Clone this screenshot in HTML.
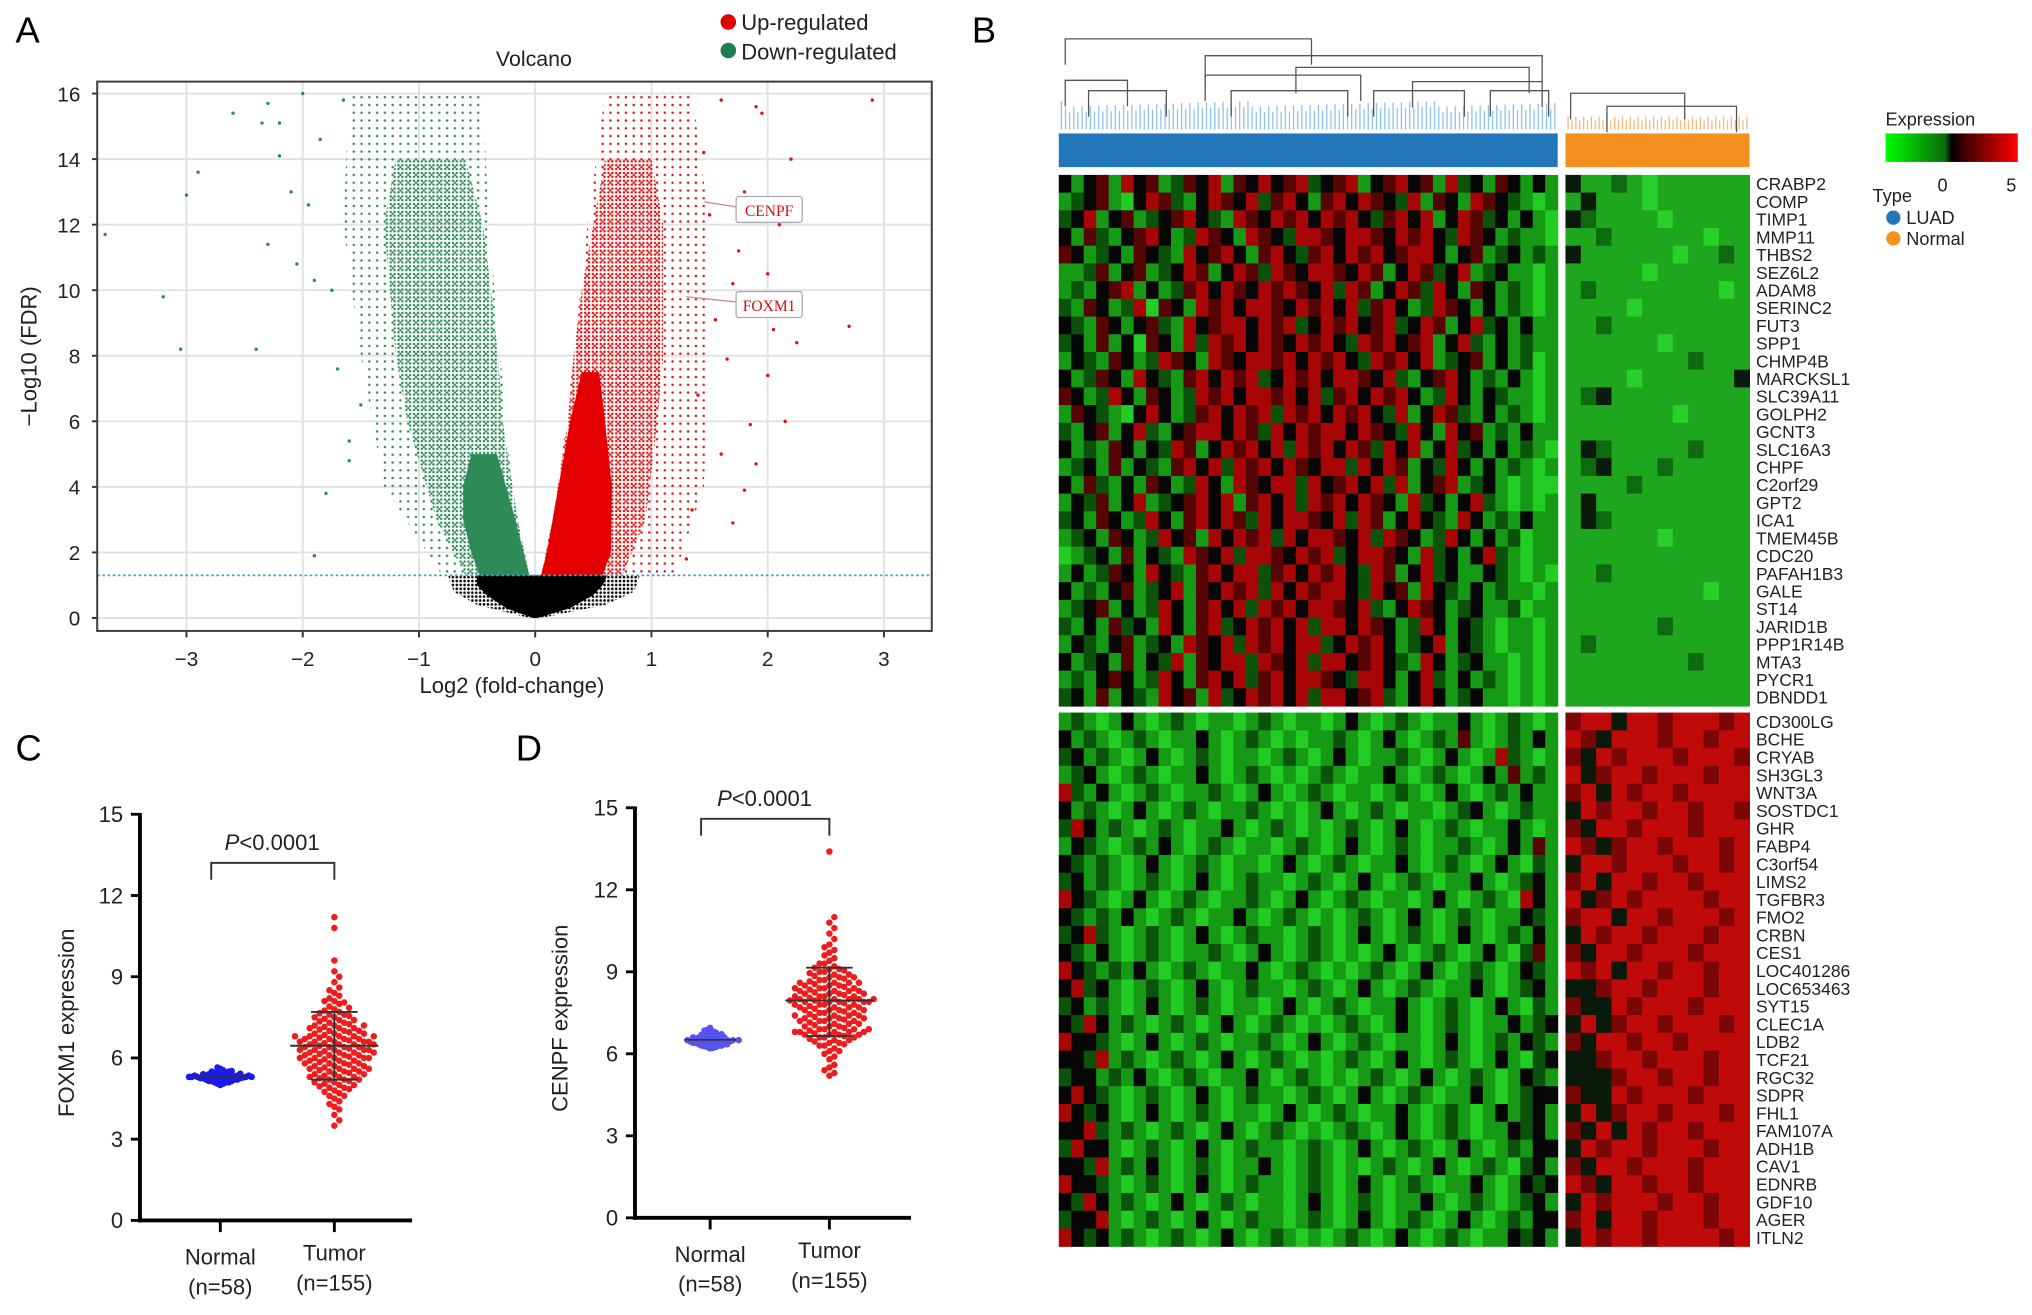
<!DOCTYPE html>
<html><head><meta charset="utf-8"><style>
html,body{margin:0;padding:0;background:#fff}
svg{display:block;font-family:"Liberation Sans",Arial,sans-serif}
</style></head><body>
<svg id="fig" width="2032" height="1315" viewBox="0 0 1568 1015" preserveAspectRatio="none" xmlns="http://www.w3.org/2000/svg">
<defs>
<pattern id="pg" width="3.0" height="3.0" patternUnits="userSpaceOnUse"><circle cx="1.5" cy="1.5" r="0.95" fill="#2e8b57"/></pattern>
<pattern id="pg2" width="6" height="6" patternUnits="userSpaceOnUse"><circle cx="3" cy="3" r="0.95" fill="#2e8b57"/></pattern>
<pattern id="pr" width="3.0" height="3.0" patternUnits="userSpaceOnUse"><circle cx="1.5" cy="1.5" r="0.95" fill="#e01010"/></pattern>
<pattern id="pr2" width="6" height="6" patternUnits="userSpaceOnUse"><circle cx="3" cy="3" r="0.95" fill="#e01010"/></pattern>
<pattern id="pk" width="3" height="3" patternUnits="userSpaceOnUse"><circle cx="1.5" cy="1.5" r="1.0" fill="#000"/></pattern>
<linearGradient id="cbar" x1="0" x2="1" y1="0" y2="0">
<stop offset="0" stop-color="#00ff00"/><stop offset="0.45" stop-color="#0a6a0a"/><stop offset="0.5" stop-color="#000"/><stop offset="0.6" stop-color="#400000"/><stop offset="1" stop-color="#ff0000"/></linearGradient>
</defs>
<g id="panelA"></g>
<g id="panelB"></g>
<g id="panelC"></g>
<g id="panelD"></g>
</svg>
<script>
// ---------- Volcano data ----------
const volTicksY=[0,2,4,6,8,10,12,14,16];
const volTicksX=[-3,-2,-1,0,1,2,3];
const downSparse=[[1.3,-0.8,-0.05],[4,-1.3,-0.2],[8,-1.5,-0.3],[12,-1.65,-0.4],[16,-1.6,-0.45]];
const downMed=[[1.3,-0.6,-0.05],[3,-0.85,-0.15],[6,-1.1,-0.28],[8,-1.2,-0.32],[10,-1.25,-0.38],[12,-1.3,-0.45],[14,-1.2,-0.6]];
const downDense=[[1.3,-0.48,-0.05],[2,-0.55,-0.1],[3,-0.62,-0.17],[4,-0.62,-0.25],[5,-0.55,-0.33]];
const upSparse=[[1.3,0.05,1.2],[4,0.2,1.45],[8,0.33,1.5],[12,0.45,1.5],[16,0.6,1.35]];
const upMed=[[1.3,0.05,0.75],[3,0.15,0.95],[6,0.28,1.05],[8,0.33,1.1],[10,0.4,1.1],[12,0.5,1.1],[14,0.6,1.0]];
const upDense=[[1.3,0.05,0.58],[2,0.1,0.65],[4,0.2,0.66],[6,0.3,0.6],[7.5,0.4,0.55]];
const nsSparse=[[0,-0.05,0.05],[0.4,-0.5,0.6],[0.8,-0.7,0.85],[1.3,-0.75,0.9]];
const nsDense=[[0,-0.02,0.02],[0.3,-0.25,0.3],[0.7,-0.42,0.5],[1.0,-0.5,0.58],[1.3,-0.5,0.62]];
const downOutX=[-3.7,-3.2,-3.05,-3.0,-2.9,-2.6,-2.4,-2.3,-2.3,-2.2,-2.2,-2.05,-2.0,-1.9,-1.8,-1.6,-1.6,-1.9,-1.7,-2.1,-1.95,-2.35,-1.75,-1.85,-1.5,-1.65];
const downOutY=[11.7,9.8,8.2,12.9,13.6,15.4,8.2,11.4,15.7,14.1,15.1,10.8,16,10.3,3.8,5.4,4.8,1.9,7.6,13.0,12.6,15.1,10.0,14.6,6.5,15.8];
const upOutX=[2.9,2.7,2.25,2.2,2.05,2.0,2.15,1.9,1.9,1.8,1.7,1.6,1.85,2.0,1.5,1.6,1.35,1.3,2.1,1.8,1.7,1.45,1.55,1.4,1.65,1.95,2.2,1.75];
const upOutY=[15.8,8.9,8.4,14.0,8.8,7.4,6.0,15.6,4.7,3.9,2.9,5.0,5.9,10.5,12.3,15.8,3.3,1.8,12.0,13.0,10.2,14.2,9.1,6.8,7.9,15.4,12.2,11.2];
const labelGenes=["CENPF","FOXM1"];
const labelGeneX=[1.45,1.3];
const labelGeneY=[12.7,9.8];

// ---------- Heatmap data ----------
const genesTop=["CRABP2","COMP","TIMP1","MMP11","THBS2","SEZ6L2","ADAM8","SERINC2","FUT3","SPP1","CHMP4B","MARCKSL1","SLC39A11","GOLPH2","GCNT3","SLC16A3","CHPF","C2orf29","GPT2","ICA1","TMEM45B","CDC20","PAFAH1B3","GALE","ST14","JARID1B","PPP1R14B","MTA3","PYCR1","DBNDD1"];
const genesBot=["CD300LG","BCHE","CRYAB","SH3GL3","WNT3A","SOSTDC1","GHR","FABP4","C3orf54","LIMS2","TGFBR3","FMO2","CRBN","CES1","LOC401286","LOC653463","SYT15","CLEC1A","LDB2","TCF21","RGC32","SDPR","FHL1","FAM107A","ADH1B","CAV1","EDNRB","GDF10","AGER","ITLN2"];
const topTumor=["kGkrGRkrGdrkRGrkRkrRdkrRGkrRkrGRdkGrkGkG","GdkrGgkRrdGkRrkRdrRkGrRkRrkdRGrkGRrkdGgG","dkRGkrGdkrRkdGRrkRrRkRrRkdrRkRGkRrdkGkGg","kGrdGkrRkGdRrkGRrkdRRrkRRrkRrRkdRrkGdGGg","rkGdkGrkdGRkrRkGrRkdrRkRrRkrRRkGkrGdkGdG","GGdrGkrGdkRrGkRrdRrkRRrkRrGkRrdkRGdkGGgG","GdGkrRGkGdrRkRrkRrRrkRdRrGkRrdRkGrkGdGgG","dGrkGdRgrkGRrRkRRrkRrRkRdrRkGdRrkGkGdGgG","kdGrkGkrdGRkrRRkRrRdkRrRkrRdkRrGkRdkGkGG","dkGrGkgrkGRdRrRkRrkRrRkdRrRkrRGkRdGkGdGG","GkdGrkGdRrkGRrkRRrRkRrRkdRrRkRGdkrGkGdgG","kGdrkGRkdGrRkRrRdkRrRkRRrkRdGkrRkGdGkGgG","rkGdRkGrkGdRrRkRRrRkRdrRkRrRkGdRkGkdGGgG","GrkdGgkRkGdrRkRrRdRrRkRrRkdRGkRrdGkGdGgG","dGkrGkRdGkrRRkRrdRkRrRRkRrkdRkGRkrGdGkGG","kGdGrkGkdRrGkRrRkRdRrRkRrdRkRGkRdkGkGdGg","GdkGrGkdGrRkRdRrRkRrkRRdRkRrGkdRkGkGdGgG","kGrdGkGrkGdRkGRrkRRdRkrRkRdRGkrRGdkGgGgg","GkdrGkRGdkrRkRGrRkRdRrRkRrkGRdkGkRdGgGgG","dkGrkGdRkGrRkRrdRkRRrkRdRrGkRkdGRkGdGkGG","GdkGrkGdRkrGRkRrRdRkRRrkRdRrkGdRkGkGdgGG","gGdkGrGkdGRrkRdRRrkRrRdkRRrkGRdkGkRdGgGG","GkGdrkGRkdGrRkRRdrRkRrRkdRrGkRdkGGkdGgGg","kGdGkrGdkRGrkRrRdRkRrRRkdRkrGRkdGkGdGGgG","GdkrGkGdRkGrRkRdRrRkRRrkRdGkRrkGdkGGdgGG","dGkGrdkGRkGrRdkRrRkRdRRkRrkGdRkGkdGgGGgG","GkdGkrGdkGRrkRdRrRkRRdkRrRkGdkRGkdGgGGgG","kGdkGrGkdRGrkRRdRrkRdRRkrRkdGRkGdkGGgGgG","GdGkrkGdRkGrRkRdrRkRRrkdRRkGkRdGkGdGgGgG","dkGrGkdGRkrGRdkRrRkRdRRkrRdGkRkGdkGGgGgG"];
const topNormal=["kGGdGgGGGGGG","GkGGGgGGGGGG","kdGGGGgGGGGG","GGdGGGGGGgGG","kGGGGGGgGGdG","GGGGGgGGGGGG","GdGGGGGGGGgG","GGGGgGGGGGGG","GGdGGGGGGGGG","GGGGGGgGGGGG","GGGGGGGGdGGG","GGGGgGGGGGGk","GdkGGGGGGGGG","GGGGGGGgGGGG","GGGGGGGGGGGG","GkdGGGGGdGGG","GdkGGGdGGGGG","GGGGdGGGGGGG","GkGGGGGGGGGG","GkdGGGGGGGGG","GGGGGGgGGGGG","GGGGGGGGGGGG","GGdGGGGGGGGG","GGGGGGGGGgGG","GGGGGGGGGGGG","GGGGGGdGGGGG","GdGGGGGGGGGG","GGGGGGGGdGGG","GGGGGGGGGGGG","GGGGGGGGGGGG"];
const botTumor=["GdGgGkGgGdGgGGgGdGgGGgGkGgGdGgGGkGgGdGgG","kGdGgGdGgGGkGgGdGgGgGGdGgGkGgGdGrGgGdGkG","dkGdGgGkGgGdGgGGgGdGgGkGgGGdGgGkGgGRdGgG","GdkGgGdGgGGkGgGdGgGgGdGgGGkGgGdGgGkGrGdG","RdGkGgGdGgGGdGgGkGgGdGgGGgGdGgGkGgGdGkGG","kGdGgGkGgGdGgGGdGgGgGkGgGdGgGGgGdkGgGdGG","dRkGdGgGdGgGGkGgGdGgGgGdGgGkGgGdGgGGkGgG","GkdGgGdGkGgGdGgGGgGdGgGkGgGdGgGGdGgGkGrG","kdGdGgGkGgGdGgGGgGkGgGdGgGGkGgGdGgGkGgdG","dkGdGgGdGgGkGgGdGGgGdGgGkGgGdGgGGkGgGdkG","RkdGgGkGgGdGgGGdGgGkGgGdGgGGgGkGgGdGgRkG","kdGdGkGgGdGgGGkGgGdGgGgGdGgGkGgGdGgGGkdG","dkRdGgGdGgGkGgGdGGgGdGgGkGgGdGgGkGgGdGkG","kdGkGgGdGgGGdGgGkGgGdGgGgGkGgGdGgGkGgdrG","RkdGdGkGgGdGgGGkGgGdGgGgGdGgGkGgGdGgGkdG","kRdkGgGdGgGkGgGdGGgGdGgGkGgGdGgGGkGgGdkG","dkGdGgGkGgGdGgGGgGkGgGdGgGGkGgGdGgGkGgdG","kdRkGdGgGdGgGkGgGdGgGgGdGgGkGgGdGgGGkGdk","RkkdGgGkGgGdGgGGdGgGkGgGdGgGGgGkGgGdGkdG","kkdRGdGgGdGgGkGgGdGgGgGdGgGkGgGdGgGkGgdk","dkkGdGkGgGdGgGGkGgGdGgGgGdGgGkGgGdGgGkdG","kRkdGgGdGgGkGgGdGGgGdGgGkGgGdGgGGkGgGdkk","RkdkGgGkGgGdGgGGgGkGgGdGgGGkGgGdGgGkGdkG","kkRdGdGgGdGgGkGgGdGgGgGdGgGkGgGdGgGGkdkG","dRkkGgGdGgGkGgGdGGgGdGgGkGgGdGgGkGgGdGkk","kkdRGdGkGgGdGgGGkGgGdGgGgGdGgGkGgGdGgdkG","RkkdGgGdGgGkGgGdGGgGdGgGkGgGdGgGGkGgGkdk","kdRkGdGgGkGgGdGgGGgGkGgGdGgGGkGgGdGgGdkG","dkkRGgGdGgGkGgGdGGgGdGgGkGgGdGgGkGgGdGkk","RkdkGdGgGdGgGkGgGdGgGgGdGgGkGgGdGgGGkdkG"];
const botNormal=["rRRkRRrRRRrR","RrkRRRrRRrRR","rkRrRRRrRRRr","RkrRRrRRRrRR","rRkRrRRrRRRR","kRrRRrRRrRRr","rkRRrRRRrRRR","RrkrRRrRRRrR","kRRrRRRrRRrR","rRkRRrRRrRRR","RkrRrRRRRrRR","rRRkRRrRRRrR","kRrRRrRRRrRR","rkRRrRRRrRRR","RrRkRRrRRrRR","kkrRRrRRRrRR","rkkRrRRRrRRR","kRkrRRrRRRrR","rkRRrRRrRRRR","kkrRRrRRRrRR","kkkrRRrRRrRR","rkkRrRRRrRRR","kRkrRRrRRRrR","rkRkRrRRrRRR","kRrRRrRRRrRR","rkRRrRRRrRRR","RrkRRrRRrRRR","kRrRRRrRRrRR","rRkRRrRRRrRR","kRrRRrRRRRrR"];
const expTicks=["0","5"];
const typeNames=["LUAD","Normal"];

// ---------- Dot plot data ----------
const catNames=["Normal","Tumor"];
const catN=["(n=58)","(n=155)"];
const dotTicks=[0,3,6,9,12,15];
const foxNormal=[5.0,5.05,5.05,5.1,5.1,5.1,5.12,5.15,5.15,5.15,5.18,5.2,5.2,5.2,5.2,5.22,5.22,5.25,5.25,5.25,5.25,5.25,5.27,5.27,5.28,5.28,5.3,5.3,5.3,5.3,5.3,5.3,5.32,5.32,5.33,5.33,5.35,5.35,5.35,5.35,5.37,5.37,5.38,5.4,5.4,5.4,5.42,5.42,5.45,5.45,5.45,5.48,5.5,5.5,5.52,5.55,5.6,5.65];
const foxTumor=[3.5,3.7,3.9,4.1,4.2,4.3,4.4,4.5,4.6,4.7,4.75,4.8,4.85,4.9,4.95,5.0,5.0,5.05,5.1,5.1,5.15,5.2,5.2,5.25,5.3,5.3,5.35,5.4,5.4,5.45,5.5,5.5,5.55,5.6,5.6,5.6,5.65,5.7,5.7,5.75,5.8,5.8,5.8,5.85,5.9,5.9,5.95,6.0,6.0,6.0,6.05,6.1,6.1,6.1,6.15,6.2,6.2,6.2,6.25,6.3,6.3,6.3,6.35,6.4,6.4,6.4,6.45,6.5,6.5,6.5,6.55,6.6,6.6,6.6,6.65,6.7,6.7,6.7,6.75,6.8,6.8,6.8,6.85,6.9,6.9,6.95,7.0,7.0,7.05,7.1,7.1,7.15,7.2,7.2,7.25,7.3,7.3,7.35,7.4,7.4,7.45,7.5,7.5,7.55,7.6,7.65,7.7,7.75,7.8,7.85,7.9,8.0,8.05,8.1,8.2,8.3,8.4,8.5,8.6,8.8,9.0,9.2,9.6,10.8,11.2,5.2,5.6,5.9,6.0,6.2,6.3,6.5,6.6,6.8,7.0,5.4,5.7,6.1,6.4,6.7,6.9,7.2,4.9,5.3,5.8,6.3,6.6,7.1,7.6,8.1,4.6,5.5,6.0,6.8];
const foxStats=[6.45,7.7,5.2];
const cenNormal=[6.2,6.22,6.25,6.25,6.28,6.3,6.3,6.3,6.32,6.33,6.35,6.35,6.35,6.38,6.4,6.4,6.4,6.4,6.42,6.42,6.43,6.45,6.45,6.45,6.45,6.47,6.48,6.5,6.5,6.5,6.5,6.5,6.52,6.52,6.53,6.55,6.55,6.55,6.57,6.58,6.6,6.6,6.6,6.62,6.63,6.65,6.65,6.68,6.7,6.7,6.72,6.75,6.78,6.8,6.82,6.85,6.88,6.95];
const cenTumor=[5.2,5.3,5.4,5.6,5.8,5.9,6.0,6.1,6.2,6.3,6.35,6.4,6.45,6.5,6.55,6.6,6.6,6.65,6.7,6.7,6.75,6.8,6.8,6.8,6.85,6.9,6.9,6.95,7.0,7.0,7.05,7.1,7.1,7.15,7.2,7.2,7.25,7.3,7.3,7.35,7.4,7.4,7.45,7.5,7.5,7.55,7.6,7.6,7.65,7.7,7.7,7.75,7.8,7.8,7.8,7.85,7.9,7.9,7.9,7.95,8.0,8.0,8.0,8.05,8.1,8.1,8.1,8.15,8.2,8.2,8.25,8.3,8.3,8.35,8.4,8.4,8.45,8.5,8.5,8.55,8.6,8.6,8.65,8.7,8.75,8.8,8.85,8.9,8.95,9.0,9.05,9.1,9.2,9.3,9.4,9.5,9.6,9.7,9.8,9.9,10.0,10.2,10.4,10.6,10.8,11.0,13.4,6.5,6.7,6.9,7.1,7.3,7.5,7.7,7.9,8.1,8.3,8.5,8.7,6.6,6.8,7.0,7.2,7.4,7.6,7.8,8.0,8.2,8.4,8.6,8.8,9.0,6.3,6.9,7.4,7.9,8.3,8.8,9.3,6.1,6.7,7.6,8.2,9.1,5.5,6.4,7.3,8.0,8.9,6.8,7.7,8.4,7.2,7.95,8.6,9.15];
const cenStats=[7.95,9.15,6.65];

// ---------- helpers ----------
const NS="http://www.w3.org/2000/svg";
function mk(parent,tag,attrs,text){const e=document.createElementNS(NS,tag);for(const k in attrs)e.setAttribute(k,attrs[k]);if(text!==undefined)e.textContent=text;parent.appendChild(e);return e;}

// ================= Panel A =================
(function(){
const g=document.getElementById('panelA');
const L=75,R=719,T=63,B=487;
const sx=v=>413+v*89.7, sy=v=>477-v*25.3;
let t=mk(g,'text',{x:12,y:33,'font-size':28},'A');

t=mk(g,'text',{x:412,y:51,'font-size':16.5,'text-anchor':'middle',fill:'#222'},'Volcano');

const lg=mk(g,'g',{});

let e=mk(lg,'circle',{cx:562,cy:17,r:6,fill:'#e00000'});

e=mk(lg,'text',{x:572,y:23,'font-size':17,fill:'#222'},'Up-regulated');

e=mk(lg,'circle',{cx:562,cy:39,r:6,fill:'#1f7d4f'});

e=mk(lg,'text',{x:572,y:46,'font-size':17,fill:'#222'},'Down-regulated');

volTicksY.forEach(v=>{const l=mk(g,'line',{x1:L,x2:R,y1:sy(v),y2:sy(v),stroke:'#e2e2e2','stroke-width':1.5});

const tx=mk(g,'text',{x:62,y:sy(v)+6,'font-size':16,'text-anchor':'end',fill:'#222'},String(v));

const tk=mk(g,'line',{x1:L-4,x2:L,y1:sy(v),y2:sy(v),stroke:'#333','stroke-width':1.5});
});
volTicksX.forEach(v=>{const l=mk(g,'line',{x1:sx(v),x2:sx(v),y1:T,y2:B,stroke:'#e2e2e2','stroke-width':1.5});

const tx=mk(g,'text',{x:sx(v),y:514,'font-size':16,'text-anchor':'middle',fill:'#222'},(v<0?'\u2212'+(-v):String(v)));

const tk=mk(g,'line',{x1:sx(v),x2:sx(v),y1:B,y2:B+5,stroke:'#333','stroke-width':1.5});
});
function env(arr,fill,name){
 let pts=arr.map(r=>sx(r[1])+','+sy(r[0]));
 pts=pts.concat(arr.slice().reverse().map(r=>sx(r[2])+','+sy(r[0])));
 const p=mk(g,'polygon',{points:pts.join(' '),fill:fill,'stroke-linejoin':'round'});
 }
env(downSparse,'url(#pg2)','down-cloud-sparse');
env(downMed,'url(#pg)','down-cloud-medium');
env(downDense,'#2e8b57','down-cloud-dense');
env(upSparse,'url(#pr2)','up-cloud-sparse');
env(upMed,'url(#pr)','up-cloud-medium');
env(upDense,'#e40000','up-cloud-dense');
env(nsSparse,'url(#pk)','ns-cloud-sparse');
env(nsDense,'#000','ns-cloud-dense');
downOutX.forEach((x,i)=>{const c=mk(g,'circle',{cx:sx(x),cy:sy(downOutY[i]),r:1.3,fill:'#2e8b57'});
});
upOutX.forEach((x,i)=>{const c=mk(g,'circle',{cx:sx(x),cy:sy(upOutY[i]),r:1.3,fill:'#e01010'});
});
e=mk(g,'line',{x1:L,x2:R,y1:sy(1.3),y2:sy(1.3),stroke:'#3aa0d8','stroke-width':1.3,'stroke-dasharray':'2,2'});

labelGenes.forEach((n,i)=>{const y=sy(labelGeneY[i]);const x=sx(labelGeneX[i]);
const l=mk(g,'line',{x1:x,x2:568,y1:y,y2:y+4,stroke:'#c88',"stroke-width":1});

const bx=mk(g,'rect',{x:568,y:y-4,width:51,height:20,fill:'#fff',stroke:'#aab','stroke-width':1,rx:2});

const tx=mk(g,'text',{x:593.5,y:y+11,'font-size':12,'text-anchor':'middle',fill:'#d01010','font-family':'Liberation Serif,serif'},n);
});
e=mk(g,'rect',{x:L,y:T,width:R-L,height:B-T,fill:'none',stroke:'#444','stroke-width':1.6});

e=mk(g,'text',{x:395,y:535,'font-size':17,'text-anchor':'middle',fill:'#222'},'Log2 (fold-change)');

e=mk(g,'text',{x:0,y:0,'font-size':17,'text-anchor':'middle',fill:'#222',transform:'translate(28,275) rotate(-90)'},'\u2212Log10 (FDR)');

})();

// ================= Panel B =================
(function(){
const g=document.getElementById('panelB');
const col={g:'#22cc22',G:'#169a16',d:'#0b520b',k:'#060606',r:'#560404',R:'#a80606'};
const colN={g:'#2ad02a',G:'#1ea61e',d:'#0e6a0e',k:'#0a1a0a',r:'#7a0606',R:'#c00a0a'};
let e=mk(g,'text',{x:750,y:33,'font-size':28},'B');

const TL=817,TR=1202,NL=1208,NR=1350;
function block(rows,x0,x1,y0,y1,name,cm){
 const h=(y1-y0)/rows.length;
 rows.forEach((s,i)=>{const w=(x1-x0)/s.length;
  for(let j=0;j<s.length;j++){const c=mk(g,'rect',{x:x0+j*w,y:y0+i*h,width:w+0.4,height:h+0.4,fill:cm[s[j]]});
  }});}
block(topTumor,TL,TR,135,545,'heat-cell-tumor-up',col);
block(topNormal,NL,NR,135,545,'heat-cell-normal-up',colN);
block(botTumor,TL,TR,550,962,'heat-cell-tumor-down',col);
block(botNormal,NL,NR,550,962,'heat-cell-normal-down',colN);
function labels(arr,y0,y1){const h=(y1-y0)/arr.length;
 arr.forEach((n,i)=>{const t=mk(g,'text',{x:1355,y:y0+h*i+h/2+5,'font-size':13.5,fill:'#222'},n);
 });}
labels(genesTop,135,545);labels(genesBot,550,962);
e=mk(g,'rect',{x:TL,y:103,width:TR-TL,height:26,fill:'#2277bb'});

e=mk(g,'rect',{x:NL,y:103,width:NR-NL,height:26,fill:'#f39020'});

const dg=mk(g,'g',{fill:'none','stroke-width':1});

for(let x=TL+2;x<TR;x+=3.2){mk(dg,'line',{x1:x,x2:x,y1:100,y2:78+((x*7)%9),stroke:'#8fc3ea'});}
for(let x=NL+2;x<NR;x+=3){mk(dg,'line',{x1:x,x2:x,y1:100,y2:88+((x*5)%6),stroke:'#f6b77a'});}
const segs=[[822,1012,30],[822,870,62],[930,1190,43],[930,1050,58],[1000,1180,52],[1090,1190,63],[840,900,70],[950,1040,70],[1060,1130,70],[1150,1195,70],[1212,1300,72],[1240,1340,82]];
segs.forEach(s=>{mk(dg,'path',{d:`M${s[0]},${s[2]+20}V${s[2]}H${s[1]}V${s[2]+20}`,stroke:'#555'});});
e=mk(g,'text',{x:1455,y:97,'font-size':14,fill:'#222'},'Expression');

e=mk(g,'rect',{x:1455,y:103,width:102,height:22,fill:'url(#cbar)'});

[[1499,0],[1552,1]].forEach(p=>{const t=mk(g,'text',{x:p[0],y:148,'font-size':14,'text-anchor':'middle',fill:'#222'},expTicks[p[1]]);
});
e=mk(g,'text',{x:1445,y:156,'font-size':14,fill:'#222'},'Type');

[['#2277bb',0,168],['#f39020',1,184]].forEach(p=>{const c=mk(g,'circle',{cx:1461,cy:p[2],r:5.5,fill:p[0]});

const t=mk(g,'text',{x:1471,y:p[2]+5,'font-size':14,fill:'#222'},typeNames[p[1]]);
});
})();

// ================= Panels C / D =================
function dotPanel(id,letter,lx,ax,y0,unit,xr,cx,norm,tum,stats,title,titleX,br,pY){
const g=document.getElementById(id);
const sy=v=>y0-v*unit;
let e=mk(g,'text',{x:lx,y:587,'font-size':28},letter);

dotTicks.forEach(v=>{const t=mk(g,'text',{x:ax-13,y:sy(v)+6,'font-size':17,'text-anchor':'end',fill:'#222'},String(v));

const k=mk(g,'line',{x1:ax-7,x2:ax,y1:sy(v),y2:sy(v),stroke:'#000','stroke-width':2.2});
});
e=mk(g,'line',{x1:ax,x2:ax,y1:sy(15)-1,y2:y0+1.5,stroke:'#000','stroke-width':3});

e=mk(g,'line',{x1:ax-1.5,x2:xr,y1:y0,y2:y0,stroke:'#000','stroke-width':3});

catNames.forEach((n,i)=>{const k=mk(g,'line',{x1:cx[i],x2:cx[i],y1:y0,y2:y0+9,stroke:'#000','stroke-width':2.2});

const t=mk(g,'text',{x:cx[i],y:y0+34-(i?3:0),'font-size':17,'text-anchor':'middle',fill:'#222'},n);

const t2=mk(g,'text',{x:cx[i],y:y0+57-(i?3:0),'font-size':17,'text-anchor':'middle',fill:'#222'},catN[i]);
});
e=mk(g,'text',{x:0,y:0,'font-size':17,'text-anchor':'middle',fill:'#222',transform:`translate(${titleX},${sy(7.3)}) rotate(-90)`},title);

e=mk(g,'path',{d:`M${cx[0]-7},${br+13}V${br}H${cx[1]}V${br+13}`,fill:'none',stroke:'#333','stroke-width':1.5});

e=mk(g,'text',{x:(cx[0]+cx[1])/2-4,y:pY,'font-size':17,'text-anchor':'middle',fill:'#222'});

mk(e,'tspan',{'font-style':'italic'},'P');mk(e,'tspan',{},'<0.0001');
function swarm(vals,c,fill,name,d,dy){
 const placed=[];
 vals.slice().sort((a,b)=>a-b).forEach(v=>{const y=sy(v);let off=0;
  for(let k=0;k<60;k++){off=(k%2?1:-1)*Math.ceil(k/2)*d;
   if(!placed.some(p=>Math.hypot(p[0]-off,(p[1]-y)*dy)<d))break;}
  placed.push([off,y]);
  const ci=mk(g,'circle',{cx:c+off,cy:y,r:2.5,fill:fill});
  });}
swarm(norm,cx[0],id==='panelC'?'#1a1aee':'#5555ee','normal-dot',2.2,1);
swarm(tum,cx[1],'#ee1c1c','tumor-dot',3.8,0.65);
[[stats[0],34],[stats[1],18],[stats[2],18]].forEach(s=>{const l=mk(g,'line',{x1:cx[1]-s[1],x2:cx[1]+s[1],y1:sy(s[0]),y2:sy(s[0]),stroke:'#333','stroke-width':1.5});
});
e=mk(g,'line',{x1:cx[1],x2:cx[1],y1:sy(stats[1]),y2:sy(stats[2]),stroke:'#333','stroke-width':1.5});

const nm=norm.reduce((a,b)=>a+b,0)/norm.length;
e=mk(g,'line',{x1:cx[0]-20,x2:cx[0]+20,y1:sy(nm),y2:sy(nm),stroke:'#333','stroke-width':1.2});

}
dotPanel('panelC','C',12,108,942,20.9,318,[170,258],foxNormal,foxTumor,foxStats,'FOXM1 expression',57,666,656);
dotPanel('panelD','D',398,490,940,21.1,703,[548,640],cenNormal,cenTumor,cenStats,'CENPF expression',438,632,622);
</script>
</body></html>
